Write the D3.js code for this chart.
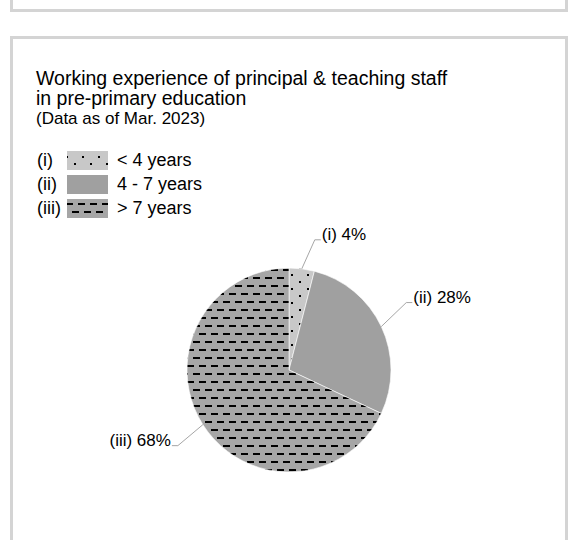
<!DOCTYPE html>
<html>
<head>
<meta charset="utf-8">
<script src="https://cdn.jsdelivr.net/npm/d3@7"></script>
<style>
  html, body { margin: 0; padding: 0; background: #fff; }
  svg { display: block; font-family: "Liberation Sans", Arial, sans-serif; }
</style>
</head>
<body>
<svg id="chart" width="573" height="540"></svg>
<script>
// ---- data ----
const categories = ["(i)", "(ii)", "(iii)"];
const legendLabels = ["< 4 years", "4 - 7 years", "> 7 years"];
const values = [4, 28, 68];
const titleLines = ["Working experience of principal & teaching staff", "in pre-primary education"];
const subtitle = "(Data as of Mar. 2023)";

const svg = d3.select("#chart");

// panel borders
const borderColor = "#d4d4d4";
svg.append("rect").attr("x", 11.5).attr("y", -20).attr("width", 555).attr("height", 30.5)
  .attr("fill", "none").attr("stroke", borderColor).attr("stroke-width", 3);
svg.append("rect").attr("x", 11.5).attr("y", 37.5).attr("width", 555).attr("height", 540)
  .attr("fill", "none").attr("stroke", borderColor).attr("stroke-width", 3);

// patterns
const defs = svg.append("defs");
const pDots = defs.append("pattern").attr("id", "dots").attr("patternUnits", "userSpaceOnUse")
  .attr("width", 16).attr("height", 14);
pDots.append("rect").attr("width", 16).attr("height", 14).attr("fill", "#c8c8c8");
pDots.append("rect").attr("x", 2).attr("y", 2).attr("width", 2).attr("height", 2).attr("fill", "#000");
pDots.append("rect").attr("x", 10).attr("y", 9).attr("width", 2).attr("height", 2).attr("fill", "#000");

const pDash = defs.append("pattern").attr("id", "dashes").attr("patternUnits", "userSpaceOnUse")
  .attr("width", 12).attr("height", 16);
pDash.append("rect").attr("width", 12).attr("height", 16).attr("fill", "#a6a6a6");
pDash.append("rect").attr("x", 0).attr("y", 3).attr("width", 7).attr("height", 2).attr("fill", "#000");
pDash.append("rect").attr("x", 6).attr("y", 11).attr("width", 7).attr("height", 2).attr("fill", "#000");
pDash.append("rect").attr("x", -6).attr("y", 11).attr("width", 7).attr("height", 2).attr("fill", "#000");

const fills = ["url(#dots)", "#a0a0a0", "url(#dashes)"];
const color = d3.scaleOrdinal().domain(categories).range(fills);

// title
const title = svg.append("text").attr("x", 36).attr("y", 85).attr("font-size", 19.5).attr("fill", "#000");
titleLines.forEach((t, i) => title.append("tspan").attr("x", 36).attr("dy", i ? 20 : 0).text(t));
svg.append("text").attr("x", 36).attr("y", 124).attr("font-size", 17).attr("fill", "#000").text(subtitle);

// legend
const legend = svg.append("g");
categories.forEach((c, i) => {
  const y = 160 + i * 24;
  legend.append("text").attr("x", 37).attr("y", y + 6).attr("font-size", 18).text(c);
  legend.append("rect").attr("x", 67).attr("y", y - 9).attr("width", 41).attr("height", 19).attr("fill", color(c));
  legend.append("text").attr("x", 117).attr("y", y + 6).attr("font-size", 18).text(legendLabels[i]);
});

// pie
const cx = 289, cy = 370, r = 102;
const pie = d3.pie().sort(null).value(d => d.value);
const data = categories.map((c, i) => ({ cat: c, value: values[i] }));
const arcs = pie(data);
const arc = d3.arc().innerRadius(0).outerRadius(r);
const edgeArc = d3.arc().innerRadius(r).outerRadius(r);
const g = svg.append("g").attr("transform", `translate(${cx},${cy})`);
g.selectAll("path.slice").data(arcs).join("path").attr("class", "slice")
  .attr("d", arc).attr("fill", d => color(d.data.cat))
  .attr("stroke", "#fff").attr("stroke-width", 0.6);

// labels with leader lines
const total = d3.sum(values);
const labelOffsets = [[13, -29, 1], [25, -24, 1], [-25, 21, -1]];
arcs.forEach((a, i) => {
  const [ex, ey] = edgeArc.centroid(a);
  const [ox, oy, side] = labelOffsets[i];
  const kx = ex + ox, ky = ey + oy;
  g.append("polyline")
    .attr("points", `${ex},${ey} ${kx},${ky} ${kx + side * 6},${ky}`)
    .attr("fill", "none").attr("stroke", "#a6a6a6").attr("stroke-width", 1);
  g.append("text")
    .attr("x", kx + side * 7).attr("y", ky)
    .attr("text-anchor", side > 0 ? "start" : "end")
    .attr("font-size", 17).attr("fill", "#000")
    .text(`${a.data.cat} ${Math.round(a.data.value / total * 100)}%`);
});
</script>
</body>
</html>
